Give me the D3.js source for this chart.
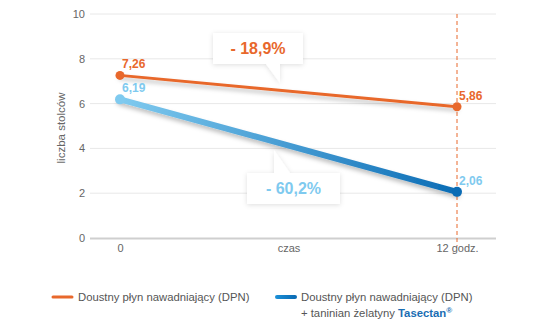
<!DOCTYPE html>
<html><head><meta charset="utf-8">
<script src="https://cdn.jsdelivr.net/npm/d3@7"></script>
<style>
body{margin:0;background:#fff;}
svg{font-family:"Liberation Sans",Arial,sans-serif;}
</style></head>
<body><svg id="c" width="555" height="330"></svg>
<script>
const categories = ["0", "czas", "12 godz."];
const pointCats = ["0", "12 godz."];
const dpnValues = [7.26, 5.86];
const tasectanValues = [6.19, 2.06];
const dpnLabels = ["7,26", "5,86"];
const tasectanLabels = ["6,19", "2,06"];
const yTicks = [0, 2, 4, 6, 8, 10];
const changeLabels = ["- 18,9%", "- 60,2%"];
const legendLabels = ["Doustny płyn nawadniający (DPN)", "Doustny płyn nawadniający (DPN)", "+ taninian żelatyny "];

const orange = "#e8682c", lightBlue = "#7fcaef", darkBlue = "#0b6cb5";
const svg = d3.select("#c");
const x = d3.scalePoint().domain(categories).range([120, 457]);
const y = d3.scaleLinear().domain([0, 10]).range([238, 14]);
const gx0 = 90, gx1 = 496;

const defs = svg.append("defs");
const sh = defs.append("filter").attr("id","sh").attr("x","-20%").attr("y","-50%").attr("width","140%").attr("height","200%");
sh.append("feDropShadow").attr("dx",0).attr("dy",3).attr("stdDeviation",2).attr("flood-color","#000").attr("flood-opacity",0.25);
const bsh = defs.append("filter").attr("id","bsh").attr("x","-20%").attr("y","-30%").attr("width","140%").attr("height","160%");
bsh.append("feDropShadow").attr("dx",0).attr("dy",1).attr("stdDeviation",2.5).attr("flood-color","#000").attr("flood-opacity",0.13);
const grad = defs.append("linearGradient").attr("id","bg").attr("gradientUnits","userSpaceOnUse")
  .attr("x1", x("0")).attr("x2", x("12 godz.")).attr("y1",0).attr("y2",0);
grad.append("stop").attr("offset","0%").attr("stop-color",lightBlue);
grad.append("stop").attr("offset","100%").attr("stop-color",darkBlue);

// grid
svg.append("g").selectAll("line").data(yTicks.filter(d=>d>0)).join("line")
  .attr("x1",gx0).attr("x2",gx1).attr("y1",d=>y(d)).attr("y2",d=>y(d))
  .attr("stroke","#e8e8e8").attr("stroke-width",1);
svg.append("line").attr("x1",gx0).attr("x2",gx1).attr("y1",y(0)+0.5).attr("y2",y(0)+0.5)
  .attr("stroke","#cfcfcf").attr("stroke-width",2);

// y axis ticks
const ya = svg.append("g").attr("transform",`translate(${gx0-3},0)`)
  .call(d3.axisLeft(y).tickValues(yTicks).tickSize(0).tickPadding(2));
ya.select(".domain").remove();
ya.selectAll("text").attr("fill","#666").attr("font-size",11).attr("font-family","Liberation Sans, Arial, sans-serif");

// x axis ticks
const xa = svg.append("g").attr("transform",`translate(0,${y(0)})`)
  .call(d3.axisBottom(x).tickSize(0).tickPadding(6));
xa.select(".domain").remove();
xa.selectAll("text").attr("fill","#666").attr("font-size",11).attr("font-family","Liberation Sans, Arial, sans-serif");

// y label
svg.append("text").attr("transform",`translate(65,${(y(0)+y(10))/2+2}) rotate(-90)`)
  .attr("text-anchor","middle").attr("fill","#666").attr("font-size",11.5).text("liczba stolców");

// dashed vertical
svg.append("line").attr("x1",x("12 godz.")).attr("x2",x("12 godz.")).attr("y1",y(10)).attr("y2",y(0)+8)
  .attr("stroke",orange).attr("stroke-width",1).attr("stroke-dasharray","4,3");

// lines
const line = d3.line().x(d=>x(d[0])).y(d=>y(d[1]));
const dpn = pointCats.map((c,i)=>[c,dpnValues[i]]);
const tas = pointCats.map((c,i)=>[c,tasectanValues[i]]);
svg.append("path").datum(dpn).attr("d",line).attr("fill","none").attr("stroke",orange)
  .attr("stroke-width",3).attr("stroke-linecap","round").attr("filter","url(#sh)");
svg.append("path").datum(tas).attr("d",line).attr("fill","none").attr("stroke","url(#bg)")
  .attr("stroke-width",6).attr("stroke-linecap","round").attr("filter","url(#sh)");

svg.append("g").selectAll("circle").data(dpn).join("circle")
  .attr("cx",d=>x(d[0])).attr("cy",d=>y(d[1])).attr("r",4.5).attr("fill",orange);
svg.append("g").selectAll("circle").data(tas).join("circle")
  .attr("cx",d=>x(d[0])).attr("cy",d=>y(d[1])).attr("r",5)
  .attr("fill",(d,i)=>i===0?lightBlue:darkBlue);

// value labels
svg.append("g").selectAll("text").data(dpn).join("text")
  .attr("x",d=>x(d[0])+2).attr("y",d=>y(d[1])-7).attr("fill",orange)
  .attr("font-size",12).attr("font-weight","bold").text((d,i)=>dpnLabels[i]);
svg.append("g").selectAll("text").data(tas).join("text")
  .attr("x",d=>x(d[0])+2).attr("y",d=>y(d[1])-7).attr("fill",lightBlue)
  .attr("font-size",12).attr("font-weight","bold").text((d,i)=>tasectanLabels[i]);

// callouts
function callout(bx,by,bw,bh,pts,label,color){
  const g = svg.append("g");
  g.append("path").attr("d",pts(bx,by,bw,bh)).attr("fill","#fff").attr("filter","url(#bsh)");
  g.append("text").attr("x",bx+bw/2).attr("y",by+bh/2+5.5).attr("text-anchor","middle")
    .attr("fill",color).attr("font-size",16).attr("font-weight","bold").text(label);
}
callout(213,33,90,31,(bx,by,bw,bh)=>`M${bx},${by}H${bx+bw}V${by+bh}H280L280,83L266,${by+bh}H${bx}Z`,changeLabels[0],orange);
callout(247,173,93,31,(bx,by,bw,bh)=>`M${bx},${by}H274L274,150L290,${by}H${bx+bw}V${by+bh}H${bx}Z`,changeLabels[1],lightBlue);

// legend
const lg = svg.append("g").attr("font-size",11.3).attr("fill","#555");
lg.append("line").attr("x1",53).attr("x2",72).attr("y1",297).attr("y2",297).attr("stroke",orange).attr("stroke-width",3).attr("stroke-linecap","round");
lg.append("text").attr("x",78).attr("y",301).text(legendLabels[0]);
const lgr = defs.append("linearGradient").attr("id","lg").attr("gradientUnits","userSpaceOnUse")
  .attr("x1",276).attr("x2",295).attr("y1",0).attr("y2",0);
lgr.append("stop").attr("offset","0%").attr("stop-color","#1b8fd6");
lgr.append("stop").attr("offset","100%").attr("stop-color",darkBlue);
lg.append("line").attr("x1",277).attr("x2",295).attr("y1",297).attr("y2",297).attr("stroke","url(#lg)").attr("stroke-width",4).attr("stroke-linecap","round");
lg.append("text").attr("x",301).attr("y",301).text(legendLabels[1]);
const t2 = lg.append("text").attr("x",301).attr("y",317);
t2.append("tspan").text(legendLabels[2]);
t2.append("tspan").attr("fill","#1a6db3").attr("font-weight","bold").text("Tasectan");
t2.append("tspan").attr("fill","#1a6db3").attr("font-weight","bold").attr("font-size",8).attr("dy",-4).text("®");
</script></body></html>
